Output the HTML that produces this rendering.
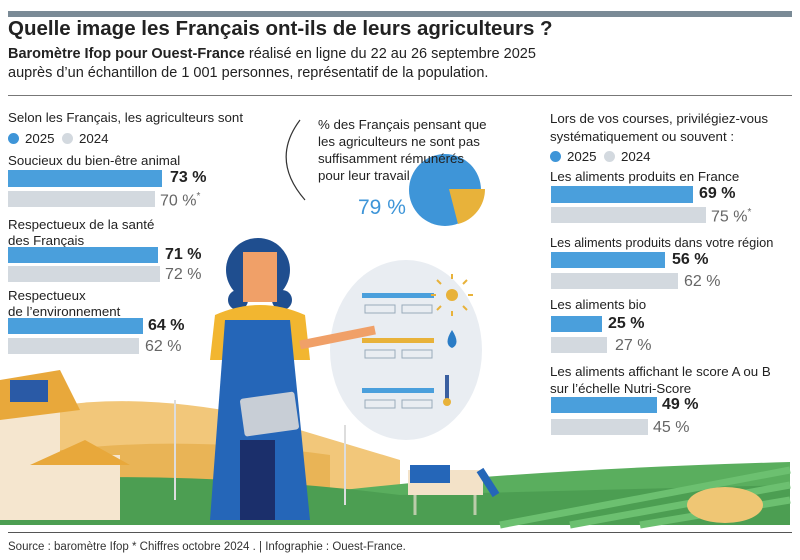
<!DOCTYPE html><html><head><meta charset="utf-8"><style>
body{margin:0;width:800px;height:560px;background:#fff;position:relative;overflow:hidden;font-family:"Liberation Sans",sans-serif;color:#222}
.t{position:absolute;white-space:nowrap}
.b{position:absolute;background:#4a9fdc}
.g{position:absolute;background:#d3d9df}
.v{position:absolute;font-weight:bold;font-size:16px;color:#222}
.w{position:absolute;font-size:16px;color:#666}
.l{position:absolute;font-size:13.3px;color:#222;line-height:16px;white-space:nowrap}
.dot{display:inline-block;width:11px;height:11px;border-radius:50%;vertical-align:-1px;margin-right:6px}
</style></head><body>
<div style="position:absolute;left:8px;top:11px;width:784px;height:6px;background:#7a8a96"></div>
<div class="t" style="left:8px;top:17px;font-size:20.5px;font-weight:bold">Quelle image les Français ont-ils de leurs agriculteurs ?</div>
<div class="t" style="left:8px;top:45px;font-size:14.5px;line-height:19px"><b>Baromètre Ifop pour Ouest-France</b> réalisé en ligne du 22 au 26 septembre 2025<br>auprès d’un échantillon de 1 001 personnes, représentatif de la population.</div>
<div style="position:absolute;left:8px;top:95px;width:784px;height:1px;background:#777"></div>

<svg style="position:absolute;left:0;top:0" width="800" height="560">
<path d="M0 420 Q100 385 250 415 L400 460 L400 525 L0 525Z" fill="#f2c77a"/>
<path d="M0 460 Q150 430 330 455 L330 525 L0 525Z" fill="#e9b456"/>
<path d="M300 495 Q500 470 790 462 L790 525 L300 525Z" fill="#5aae5e"/>
<path d="M0 480 Q200 470 400 495 L790 485 L790 525 L0 525Z" fill="#4c9e52"/>
<path d="M500 525 L790 470 M570 525 L790 485 M640 525 L790 500" stroke="#6cc070" stroke-width="7"/>
<rect x="0" y="400" width="60" height="120" fill="#f5e6cf"/><path d="M0 380 L60 370 L80 410 L0 420Z" fill="#e8a83b"/>
<rect x="10" y="380" width="38" height="22" fill="#2a5aa6"/>
<rect x="40" y="455" width="80" height="65" fill="#f5e6cf"/><path d="M30 465 L85 440 L130 465Z" fill="#e8a83b"/>
<line x1="175" y1="400" x2="175" y2="500" stroke="#ddd" stroke-width="2"/>
<line x1="345" y1="425" x2="345" y2="505" stroke="#ddd" stroke-width="2"/>
<ellipse cx="406" cy="350" rx="76" ry="90" fill="#e9edf2"/>
<rect x="362" y="293" width="72" height="5" fill="#4a9fdc"/><rect x="362" y="338" width="72" height="5" fill="#e8b23a"/><rect x="362" y="388" width="72" height="5" fill="#4a9fdc"/>
<rect x="365" y="305" width="30" height="8" fill="none" stroke="#9ab"/><rect x="402" y="305" width="30" height="8" fill="none" stroke="#9ab"/>
<rect x="365" y="350" width="30" height="8" fill="none" stroke="#9ab"/><rect x="402" y="350" width="30" height="8" fill="none" stroke="#9ab"/>
<rect x="365" y="400" width="30" height="8" fill="none" stroke="#9ab"/><rect x="402" y="400" width="30" height="8" fill="none" stroke="#9ab"/>
<circle cx="452" cy="295" r="6" fill="#e8b23a"/><path d="M452 279v-5M452 311v5M436 295h-5M468 295h5M441 284l-4-4M463 284l4-4M441 306l-4 4M463 306l4 4" stroke="#e8b23a" stroke-width="2"/>
<path d="M452 330 q-9 14 0 18 q9 -4 0 -18" fill="#2a7cc6"/><rect x="445" y="375" width="4" height="25" fill="#3a5fa0"/><circle cx="447" cy="402" r="4" fill="#e8b23a"/>
<path d="M300 120 Q270 160 305 200" fill="none" stroke="#333" stroke-width="1.2"/>
<circle cx="258" cy="270" r="32" fill="#1f4e8f"/>
<circle cx="238" cy="300" r="10" fill="#1f4e8f"/><circle cx="282" cy="300" r="10" fill="#1f4e8f"/>
<path d="M243 252 h34 v50 h-34z" fill="#f0a068"/>
<path d="M215 315 q45 -20 90 0 l5 45 h-100z" fill="#f2b630"/>
<path d="M225 320 h65 l20 200 h-100z" fill="#2566b8"/>
<path d="M240 440 h35 v80 h-35z" fill="#1b2f6b"/>
<rect x="242" y="395" width="55" height="38" rx="3" fill="#c8ced6" transform="rotate(-8 270 414)"/>
<path d="M300 345 L375 330" stroke="#f0a068" stroke-width="9"/>
<path d="M408 470 h75 v25 h-75z" fill="#f3e2c8"/><path d="M410 465 h40 v18 h-40z" fill="#2566b8"/><path d="M480 470 l16 25" stroke="#2566b8" stroke-width="8"/>
<line x1="415" y1="495" x2="415" y2="515" stroke="#bca" stroke-width="3"/><line x1="475" y1="495" x2="475" y2="515" stroke="#bca" stroke-width="3"/>
<ellipse cx="725" cy="505" rx="38" ry="18" fill="#efc674"/>
<circle cx="445" cy="190" r="36" fill="#3e95d8"/>
<path d="M449 189 L485 189 A36 36 0 0 1 458 224Z" fill="#e8b23a"/>
</svg>

<div class="l" style="left:8px;top:110px">Selon les Français, les agriculteurs sont</div>
<div class="l" style="left:8px;top:131px"><span class="dot" style="background:#3e95d8"></span>2025 &nbsp;<span class="dot" style="background:#d3d9df"></span>2024</div>
<div class="l" style="left:8px;top:153px">Soucieux du bien-être animal</div>
<div class="b" style="left:8px;top:170px;width:154px;height:17px"></div><div class="v" style="left:170px;top:169px">73 %</div>
<div class="g" style="left:8px;top:191px;width:147px;height:16px"></div><div class="w" style="left:160px;top:191px">70 %<sup style="font-size:10px">*</sup></div>
<div class="l" style="left:8px;top:217px">Respectueux de la santé<br>des Français</div>
<div class="b" style="left:8px;top:247px;width:150px;height:16px"></div><div class="v" style="left:165px;top:246px">71 %</div>
<div class="g" style="left:8px;top:266px;width:152px;height:16px"></div><div class="w" style="left:165px;top:266px">72 %</div>
<div class="l" style="left:8px;top:288px">Respectueux<br>de l’environnement</div>
<div class="b" style="left:8px;top:318px;width:135px;height:16px"></div><div class="v" style="left:148px;top:317px">64 %</div>
<div class="g" style="left:8px;top:338px;width:131px;height:16px"></div><div class="w" style="left:145px;top:338px">62 %</div>

<div class="l" style="left:318px;top:116px;line-height:17px">% des Français pensant que<br>les agriculteurs ne sont pas<br>suffisamment rémunérés<br>pour leur travail</div>
<div class="t" style="left:358px;top:196px;font-size:21px;color:#3e95d8">79 %</div>

<div class="l" style="left:550px;top:110px;line-height:18px">Lors de vos courses, privilégiez-vous<br>systématiquement ou souvent :</div>
<div class="l" style="left:550px;top:149px"><span class="dot" style="background:#3e95d8"></span>2025 &nbsp;<span class="dot" style="background:#d3d9df"></span>2024</div>
<div class="l" style="left:550px;top:169px">Les aliments produits en France</div>
<div class="b" style="left:551px;top:186px;width:142px;height:17px"></div><div class="v" style="left:699px;top:185px">69 %</div>
<div class="g" style="left:551px;top:207px;width:155px;height:16px"></div><div class="w" style="left:711px;top:207px">75 %<sup style="font-size:10px">*</sup></div>
<div class="l" style="left:550px;top:235px;font-size:12.8px">Les aliments produits dans votre région</div>
<div class="b" style="left:551px;top:252px;width:114px;height:16px"></div><div class="v" style="left:672px;top:251px">56 %</div>
<div class="g" style="left:551px;top:273px;width:127px;height:16px"></div><div class="w" style="left:684px;top:273px">62 %</div>
<div class="l" style="left:550px;top:297px">Les aliments bio</div>
<div class="b" style="left:551px;top:316px;width:51px;height:16px"></div><div class="v" style="left:608px;top:315px">25 %</div>
<div class="g" style="left:551px;top:337px;width:56px;height:16px"></div><div class="w" style="left:615px;top:337px">27 %</div>
<div class="l" style="left:550px;top:363px;line-height:17px">Les aliments affichant le score A ou B<br>sur l’échelle Nutri-Score</div>
<div class="b" style="left:551px;top:397px;width:106px;height:16px"></div><div class="v" style="left:662px;top:396px">49 %</div>
<div class="g" style="left:551px;top:419px;width:97px;height:16px"></div><div class="w" style="left:653px;top:419px">45 %</div>

<div style="position:absolute;left:8px;top:532px;width:784px;height:1px;background:#555"></div>
<div class="t" style="left:8px;top:541px;font-size:11.5px;color:#333">Source : baromètre Ifop * Chiffres octobre 2024 . | Infographie : Ouest-France.</div>
</body></html>
